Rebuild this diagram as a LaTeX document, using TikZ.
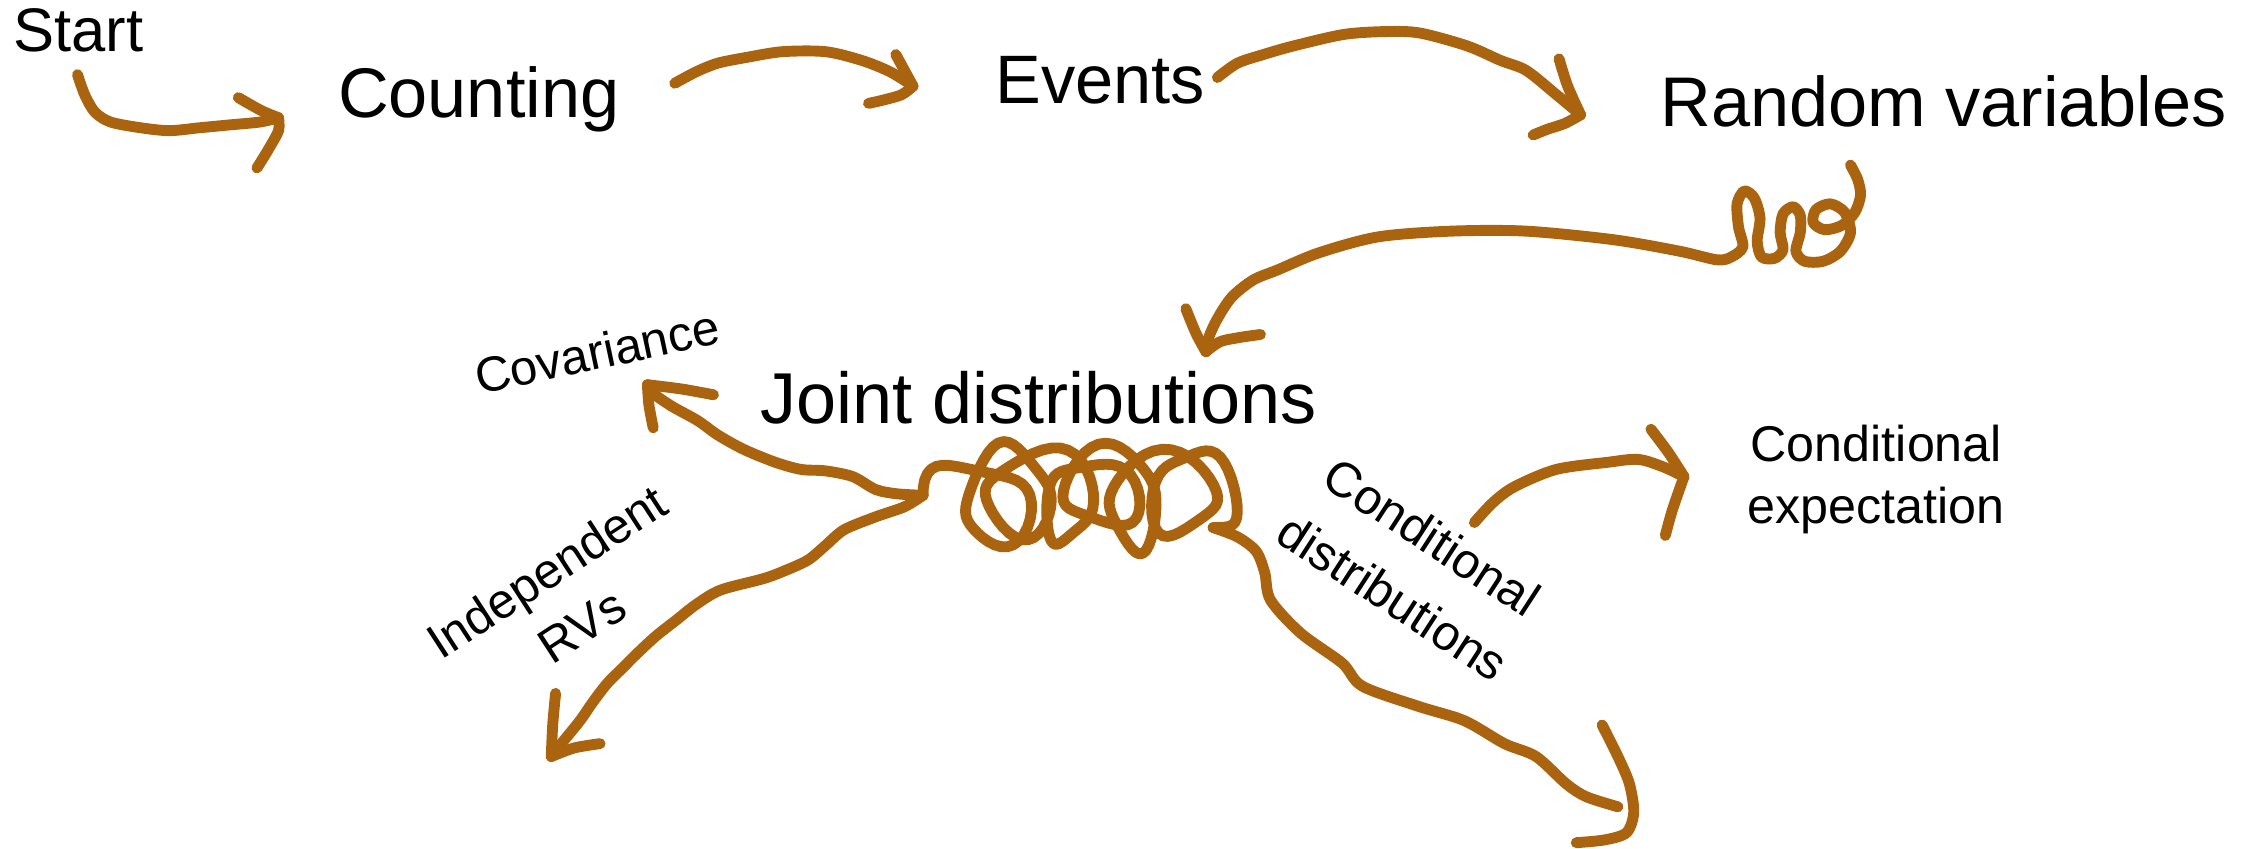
\documentclass[tikz,border=0pt]{standalone}
\usepackage{fontspec}
\setmainfont{Liberation Sans}
\definecolor{penbrown}{RGB}{170,99,15}
\newcommand{\PenWidth}{3.1pt}
\newcommand{\LabelFont}[2]{\fontsize{#1}{#2}\selectfont}
\tikzset{
  pen/.style={draw=penbrown, line width=\PenWidth, line cap=round, line join=round},
  topic/.style={inner sep=0pt, anchor=base west, font=\LabelFont{20pt}{24pt}},
  subtopic/.style={inner sep=0pt, align=center, font=\LabelFont{14pt}{18pt}},
}

\begin{document}
\begin{tikzpicture}[x=0.14356mm, y=-0.14356mm]
    \useasboundingbox (0,0) rectangle (1568,591);
    % labels
    \node[topic, font=\LabelFont{17.5pt}{21pt}] (start) at (9,36) {Start};
    \node[topic] (counting) at (235,82) {Counting};
    \node[topic, font=\LabelFont{19.5pt}{23pt}] (events) at (693,72) {Events};
    \node[topic] (randvars) at (1156,88) {Random variables};
    \node[topic, font=\LabelFont{20.5pt}{24pt}] (joint) at (529,295) {Joint distributions};
    \node[subtopic, rotate=12] (covar) at (416,245) {Covariance};
    \node[subtopic, rotate=33, font=\LabelFont{14pt}{18.5pt}] (indep) at (393,417) {Independent\\RVs};
    \node[subtopic, rotate=-33, font=\LabelFont{14pt}{20.4pt}] (conddist) at (984,395) {Conditional\\distributions};
    \node[subtopic, font=\LabelFont{14.3pt}{17.9pt}] (condexp) at (1307,334) {Conditional\\expectation};
    % start -> counting
    \draw[pen] plot[smooth] coordinates {(54,52) (59,66) (66,78) (77,85) (98,89) (118,91) (139,89) (160,87) (181,85) (194,82)};
    \draw[pen] plot[smooth] coordinates {(166,68) (182,77) (194,82)};
    \draw[pen] plot[smooth] coordinates {(194,82) (194,91) (187,104) (179,117)};
    % counting -> events
    \draw[pen] plot[smooth] coordinates {(470,58) (485,50) (500,44) (520,40) (545,36) (575,36) (600,42) (620,50) (636,60)};
    \draw[pen] plot[smooth] coordinates {(624,38) (630,49) (636,60)};
    \draw[pen] plot[smooth] coordinates {(636,60) (628,66) (614,70) (605,72)};
    % events -> random variables
    \draw[pen] plot[smooth] coordinates {(848,54) (862,44) (880,38) (901,32) (936,24) (965,22) (989,23) (1022,32) (1045,42) (1063,49) (1083,65) (1101,80)};
    \draw[pen] plot[smooth] coordinates {(1086,41) (1092,60) (1101,80)};
    \draw[pen] plot[smooth] coordinates {(1101,80) (1090,86) (1078,90) (1068,94)};
    % random variables -> joint distributions
    \draw[pen] plot[smooth] coordinates {(1289,115) (1294,125) (1296,136) (1292,148) (1283,157) (1271,160) (1263,155) (1265,146) (1275,142) (1285,148) (1289,162) (1282,175) (1270,182) (1257,182) (1251,175) (1254,162) (1254,150) (1249,144) (1242,149) (1240,162) (1242,174) (1236,180) (1227,179) (1224,168) (1226,152) (1222,138) (1215,133) (1210,142) (1211,158) (1214,172) (1206,179) (1196,181) (1170,175) (1124,167) (1063,161) (1011,161) (960,165) (919,176) (890,188) (873,195) (858,207) (848,222) (842,235) (840,245)};
    \draw[pen] plot[smooth] coordinates {(826,215) (833,232) (840,245)};
    \draw[pen] plot[smooth] coordinates {(840,245) (850,238) (864,235) (878,233)};
    % the tangle under joint distributions
    \draw[pen] plot[domain=0:2430, samples=260] ({670+0.072*\x-(27+9*sin(0.6*\x))*cos(\x)}, {345+6*sin(0.45*\x)-(29+8*cos(1.7*\x))*sin(\x)}) coordinate (tangleEnd);
    \coordinate (tangleStart) at (643,345);
    % covariance
    \draw[pen] plot[smooth] coordinates {(tangleStart) (625,344) (610,341) (594,332) (575,328) (558,327) (540,322) (518,313) (500,303) (486,293) (468,283) (455,274) (451,268)};
    \draw[pen] plot[smooth] coordinates {(455,298) (452,282) (451,268)};
    \draw[pen] plot[smooth] coordinates {(451,268) (475,271) (497,275)};
    % independent RVs
    \draw[pen] plot[smooth] coordinates {(tangleStart) (630,353) (610,360) (588,369) (575,380) (563,390) (548,397) (532,403) (502,411) (485,421) (471,432) (457,443) (444,455) (433,466) (423,476) (413,489) (404,502) (391,518) (384,527)};
    \draw[pen] plot[smooth] coordinates {(387,483) (385,505) (384,527)};
    \draw[pen] plot[smooth] coordinates {(384,527) (400,521) (418,518)};
    % conditional distributions
    \draw[pen] plot[smooth] coordinates {(tangleEnd) (862,374) (875,384) (881,399) (885,418) (906,441) (935,462) (949,478) (988,492) (1020,502) (1048,518) (1070,527) (1091,546) (1105,555) (1127,562)};
    \draw[pen] plot[smooth] coordinates {(1116,505) (1127,527) (1135,546) (1138,566) (1133,580) (1118,585) (1098,587)};
    % conditional expectation
    \draw[pen] plot[smooth] coordinates {(1027,364) (1040,350) (1055,339) (1084,327) (1120,322) (1141,320) (1158,325) (1173,332)};
    \draw[pen] plot[smooth] coordinates {(1150,299) (1162,315) (1173,332)};
    \draw[pen] plot[smooth] coordinates {(1173,332) (1165,355) (1160,373)};
\end{tikzpicture}
\end{document}
